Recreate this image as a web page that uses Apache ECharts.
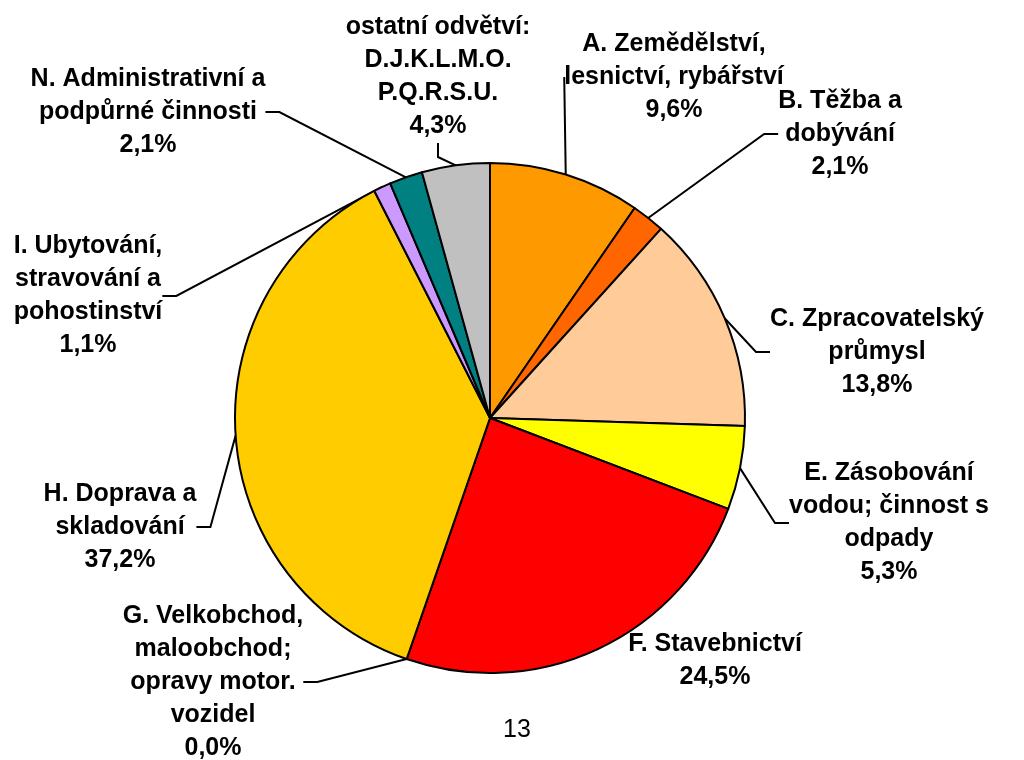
<!DOCTYPE html>
<html>
<head>
<meta charset="utf-8">
<style>
  html, body { margin: 0; padding: 0; background: #fff; }
  #chart { width: 1024px; height: 760px; }
</style>
<script src="https://cdn.jsdelivr.net/npm/echarts@6/dist/echarts.min.js"></script>
</head>
<body>
<div id="chart"></div>
<script>
// odvětví (clockwise from 12 o'clock)
const categories = [
  'A. Zemědělství,\nlesnictví, rybářství',
  'B. Těžba a\ndobývání',
  'C. Zpracovatelský\nprůmysl',
  'E. Zásobování\nvodou; činnost s\nodpady',
  'F. Stavebnictví',
  'G. Velkobchod,\nmaloobchod;\nopravy motor.\nvozidel',
  'H. Doprava a\nskladování',
  'I. Ubytování,\nstravování a\npohostinství',
  'N. Administrativní a\npodpůrné činnosti',
  'ostatní odvětví:\nD.J.K.L.M.O.\nP.Q.R.S.U.'
];
const shares = [9.6, 2.1, 13.8, 5.3, 24.5, 0.0, 37.2, 1.1, 2.1, 4.3];

const colors = ['#FF9900', '#FF6600', '#FFCC99', '#FFFF00', '#FF0000',
                '#9999FF', '#FFCC00', '#CC99FF', '#008080', '#C0C0C0'];

// where each label block sits (centre of text)
const labelPos = [
  [674, 77], [840, 134], [877, 352], [889, 523], [715, 661],
  [213, 682], [120, 527], [88, 296], [148, 112], [438, 77]
];

const chart = echarts.init(document.getElementById('chart'));

chart.setOption({
  animation: false,
  color: colors,
  series: [{
    type: 'pie',
    center: [490, 418],
    radius: 255,
    startAngle: 90,
    clockwise: true,
    avoidLabelOverlap: false,
    itemStyle: { borderColor: '#000', borderWidth: 2 },
    label: {
      show: true,
      color: '#000',
      fontFamily: 'Liberation Sans, Arial, sans-serif',
      fontSize: 25,
      fontWeight: 'bold',
      lineHeight: 33,
      align: 'center',
      formatter: p => p.name + '\n' + p.value.toFixed(1).replace('.', ',') + '%'
    },
    labelLine: {
      show: true,
      length: 20,
      length2: 14,
      lineStyle: { color: '#000', width: 2 }
    },
    labelLayout: params => ({
      x: labelPos[params.dataIndex][0],
      y: labelPos[params.dataIndex][1],
      align: 'center',
      verticalAlign: 'middle'
    }),
    data: categories.map((name, i) => ({
      name: name,
      value: shares[i],
      labelLine: { show: i !== 4 }
    }))
  }],
  graphic: [{
    type: 'text',
    left: 503,
    top: 718,
    style: {
      text: '13',
      fontFamily: 'Liberation Sans, Arial, sans-serif',
      fontSize: 25,
      fill: '#000'
    }
  }]
});
</script>
</body>
</html>
